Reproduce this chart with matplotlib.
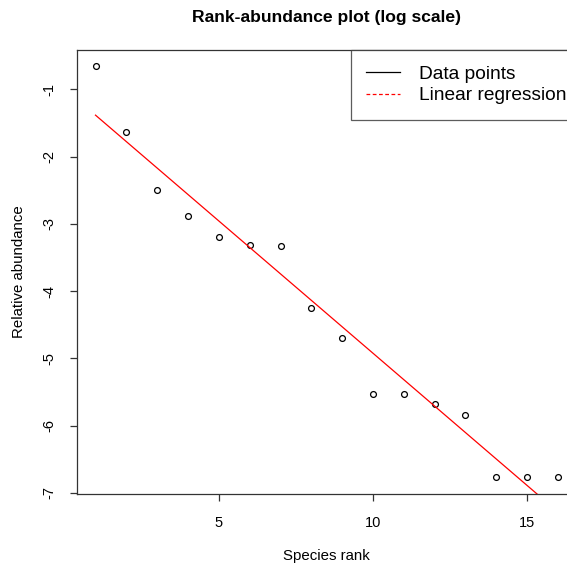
import numpy as np
import matplotlib
matplotlib.use("Agg")
import matplotlib.pyplot as plt
from matplotlib.lines import Line2D

plt.rcParams['font.family'] = ['Liberation Sans', 'DejaVu Sans']

rank = np.arange(1, 17)
log_abundance = [-0.659, -1.634, -2.494, -2.884, -3.202, -3.310, -3.325, -4.249,
                 -4.700, -5.525, -5.525, -5.674, -5.847, -6.767, -6.767, -6.767]
x_ticks = [5, 10, 15]
y_ticks = [-1, -2, -3, -4, -5, -6, -7]

W = H = 567
fig = plt.figure(figsize=(W / 100, H / 100), dpi=100)
left, right, top, bottom = 77, 576.5, 50, 493.7
ax = fig.add_axes([left / W, (H - bottom) / H, (right - left) / W, (bottom - top) / H])

y = np.array(log_abundance)
slope, intercept = np.polyfit(rank, y, 1)

ax.plot(rank, y, linestyle='none', marker='o', markersize=4.2, markerfacecolor='none',
        markeredgecolor='black', markeredgewidth=0.9)
ax.plot(rank, intercept + slope * rank, color='red', linewidth=0.9)

xr = rank.max() - rank.min()
yr = y.max() - y.min()
ax.set_xlim(rank.min() - 0.04 * xr, rank.max() + 0.04 * xr)
ax.set_ylim(y.min() - 0.04 * yr, y.max() + 0.04 * yr)

ax.set_xticks(x_ticks)
ax.set_yticks(y_ticks)
ax.set_yticklabels([str(v) for v in y_ticks], rotation=90, va='center')
ax.tick_params(axis='both', direction='out', length=5, width=0.9, color='#333333',
               labelsize=10.5, pad=11)
ax.tick_params(axis='y', pad=10)
for s in ax.spines.values():
    s.set_linewidth(0.9)
    s.set_color('#333333')

ax.set_xlabel('Species rank', fontsize=10.8, labelpad=14)
ax.set_ylabel('Relative abundance', fontsize=10.8, labelpad=11.5)
ax.set_title('Rank-abundance plot (log scale)', fontsize=12.6, fontweight='bold', pad=20)

handles = [Line2D([], [], color='black', linewidth=0.9),
           Line2D([], [], color='red', linewidth=0.9, linestyle=(0, (3, 2)))]
leg = ax.legend(handles, ['Data points', 'Linear regression'], loc='upper right',
                bbox_to_anchor=(1.01, 1), borderaxespad=0, fontsize=13.8, frameon=True,
                fancybox=False, edgecolor='#333333', handlelength=1.8, handletextpad=0.95,
                borderpad=0.8, labelspacing=0.22)
leg.get_frame().set_linewidth(0.9)

fig.savefig('out.png', dpi=100)
